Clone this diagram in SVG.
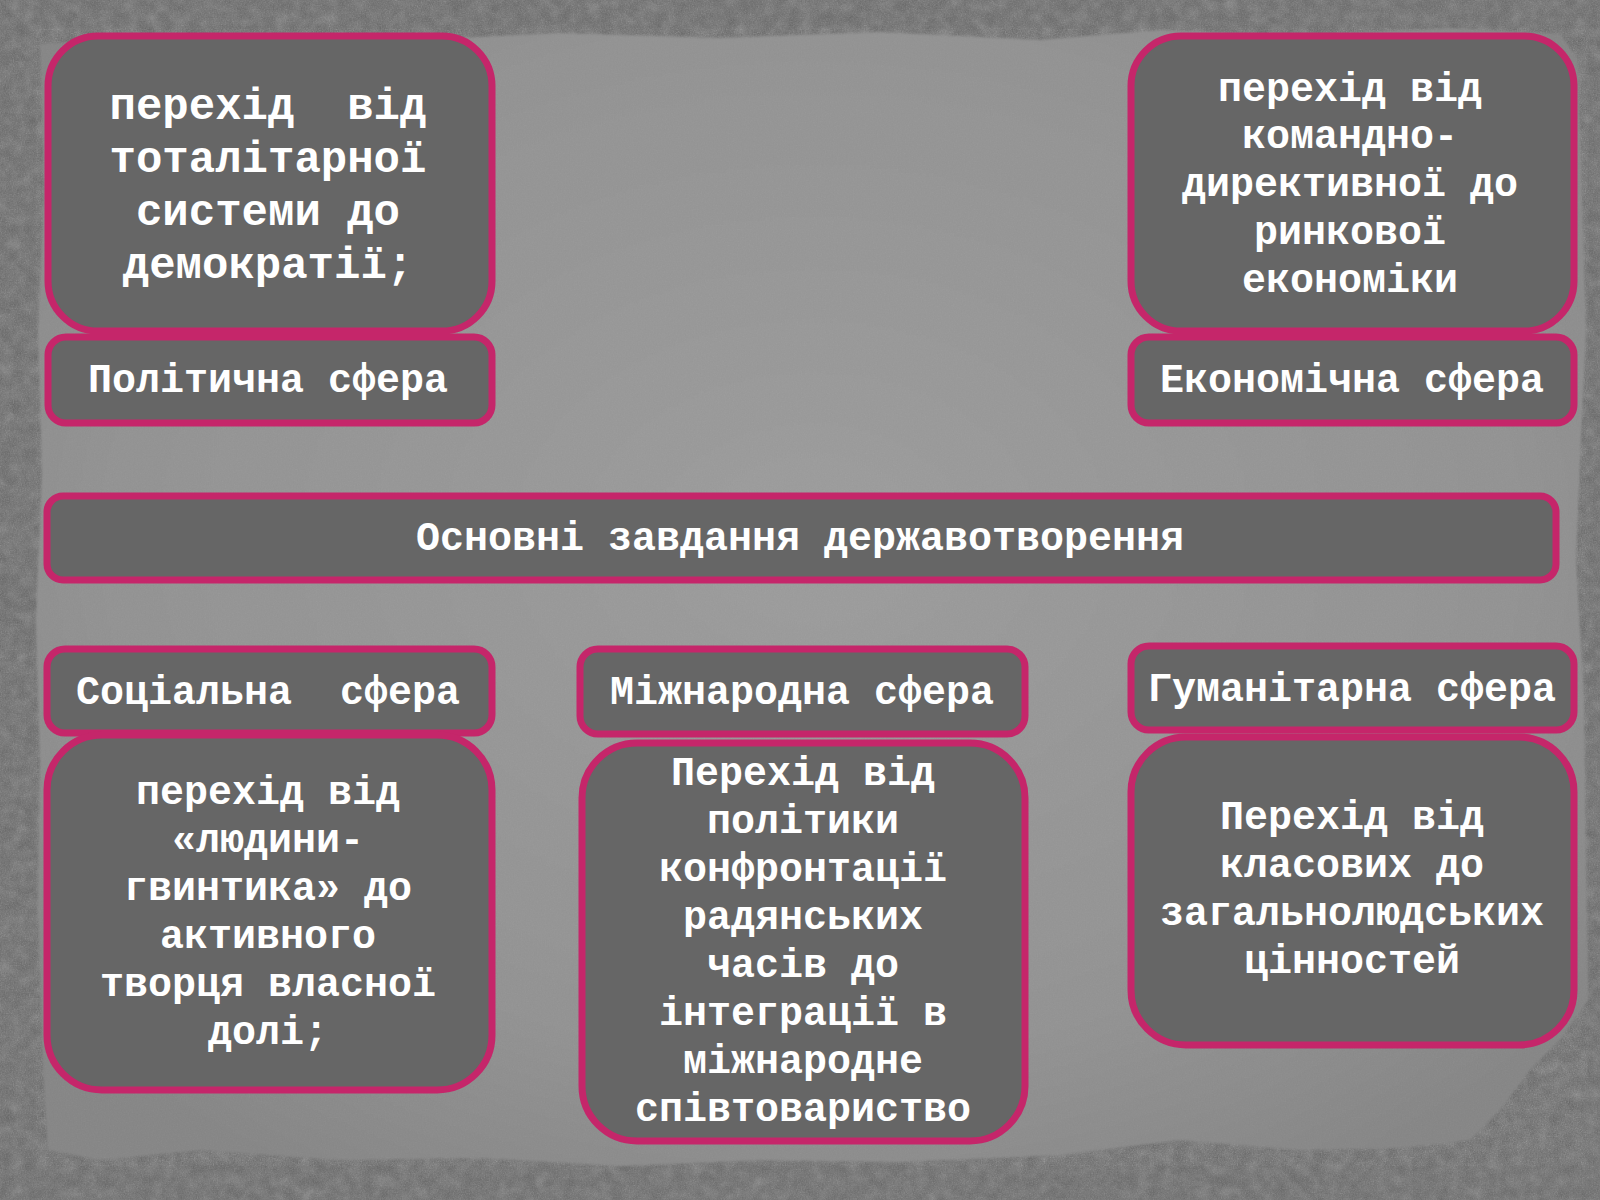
<svg xmlns="http://www.w3.org/2000/svg" width="1600" height="1200" viewBox="0 0 1600 1200">
<defs>
<style>
.box{fill:#666666;stroke:#c5266a;stroke-width:7}
.t{font-family:"Liberation Mono","Courier New","DejaVu Sans Mono",monospace;font-weight:bold;font-size:40px;fill:#ffffff;text-anchor:middle}
.tl{font-size:44px}
</style>
<filter id="noise" x="0" y="0" width="100%" height="100%">
<feTurbulence type="fractalNoise" baseFrequency="0.75" numOctaves="3" seed="7"/>
<feColorMatrix type="saturate" values="0"/>
</filter>
<filter id="blotch" x="0" y="0" width="100%" height="100%">
<feTurbulence type="fractalNoise" baseFrequency="0.08" numOctaves="5" seed="2"/>
<feColorMatrix type="saturate" values="0"/>
</filter>
<filter id="soft" x="-5%" y="-5%" width="110%" height="110%">
<feGaussianBlur stdDeviation="1.2"/>
</filter>
<radialGradient id="paperGrad" cx="50%" cy="45%" r="65%">
<stop offset="0" stop-color="#9c9c9c"/>
<stop offset="0.7" stop-color="#929292"/>
<stop offset="1" stop-color="#858585"/>
</radialGradient>
</defs>
<g id="background">
<rect x="0" y="0" width="1600" height="1200" fill="#626262"/>
<rect x="0" y="0" width="1600" height="1200" filter="url(#blotch)" opacity="0.3"/>
<rect x="0" y="0" width="1600" height="1200" filter="url(#noise)" opacity="0.3"/>
<path d="M40,44 L120,38 L260,34 L420,40 L560,33 L720,38 L880,32 L1040,40 L1160,30 L1300,36 L1450,28 L1560,34 L1578,60 L1582,200 L1586,330 L1580,460 L1576,560 L1584,700 L1586,860 L1588,1000 L1560,1040 L1530,1070 L1500,1110 L1470,1140 L1400,1148 L1300,1150 L1180,1140 L1060,1155 L900,1162 L760,1160 L620,1166 L480,1158 L340,1160 L200,1150 L100,1160 L48,1150 L42,1050 L38,900 L40,760 L36,620 L42,470 L38,330 L44,190 Z" fill="url(#paperGrad)" filter="url(#soft)"/>
<path d="M40,44 L120,38 L260,34 L420,40 L560,33 L720,38 L880,32 L1040,40 L1160,30 L1300,36 L1450,28 L1560,34 L1578,60 L1582,200 L1586,330 L1580,460 L1576,560 L1584,700 L1586,860 L1588,1000 L1560,1040 L1530,1070 L1500,1110 L1470,1140 L1400,1148 L1300,1150 L1180,1140 L1060,1155 L900,1162 L760,1160 L620,1166 L480,1158 L340,1160 L200,1150 L100,1160 L48,1150 L42,1050 L38,900 L40,760 L36,620 L42,470 L38,330 L44,190 Z" fill="#ffffff" filter="url(#noise)" opacity="0.08"/>
</g>
<g id="connectors"></g>
<g id="node-political">
<rect class="box" x="48" y="36" width="444" height="295" rx="50"/>
<text class="t tl" x="268" xml:space="preserve"><tspan x="268" y="119">перехід  від</tspan><tspan x="268" y="172">тоталітарної</tspan><tspan x="268" y="225">системи до</tspan><tspan x="268" y="278">демократії;</tspan></text>
</g>
<g id="label-political">
<rect class="box" x="48" y="337" width="444" height="86" rx="18"/>
<text class="t" x="268" y="392">Політична сфера</text>
</g>
<g id="node-economic">
<rect class="box" x="1131" y="36" width="443" height="295" rx="50"/>
<text class="t"><tspan x="1350" y="101">перехід від</tspan><tspan x="1350" y="148">командно-</tspan><tspan x="1350" y="196">директивної до</tspan><tspan x="1350" y="244">ринкової</tspan><tspan x="1350" y="292">економіки</tspan></text>
</g>
<g id="label-economic">
<rect class="box" x="1131" y="337" width="443" height="86" rx="18"/>
<text class="t" x="1352" y="392">Економічна сфера</text>
</g>
<g id="node-main">
<rect class="box" x="47" y="496" width="1509" height="84" rx="16"/>
<text class="t" x="800" y="550">Основні завдання державотворення</text>
</g>
<g id="label-social">
<rect class="box" x="47" y="649" width="445" height="84" rx="18"/>
<text class="t" x="268" y="704" xml:space="preserve">Соціальна  сфера</text>
</g>
<g id="node-social">
<rect class="box" x="47" y="735" width="445" height="355" rx="55"/>
<text class="t"><tspan x="268" y="804">перехід від</tspan><tspan x="268" y="852">«людини-</tspan><tspan x="268" y="900">гвинтика» до</tspan><tspan x="268" y="948">активного</tspan><tspan x="268" y="996">творця власної</tspan><tspan x="268" y="1044">долі;</tspan></text>
</g>
<g id="label-international">
<rect class="box" x="580" y="649" width="445" height="85" rx="18"/>
<text class="t" x="802" y="704">Міжнародна сфера</text>
</g>
<g id="node-international">
<rect class="box" x="582" y="743" width="443" height="398" rx="55"/>
<text class="t"><tspan x="803" y="785">Перехід від</tspan><tspan x="803" y="833">політики</tspan><tspan x="803" y="881">конфронтації</tspan><tspan x="803" y="929">радянських</tspan><tspan x="803" y="977">часів до</tspan><tspan x="803" y="1025">інтеграції в</tspan><tspan x="803" y="1073">міжнародне</tspan><tspan x="803" y="1121">співтовариство</tspan></text>
</g>
<g id="label-humanitarian">
<rect class="box" x="1131" y="646" width="443" height="84" rx="18"/>
<text class="t" x="1352" y="701">Гуманітарна сфера</text>
</g>
<g id="node-humanitarian">
<rect class="box" x="1131" y="737" width="443" height="308" rx="55"/>
<text class="t"><tspan x="1352" y="829">Перехід від</tspan><tspan x="1352" y="877">класових до</tspan><tspan x="1352" y="925">загальнолюдських</tspan><tspan x="1352" y="973">цінностей</tspan></text>
</g>
</svg>
